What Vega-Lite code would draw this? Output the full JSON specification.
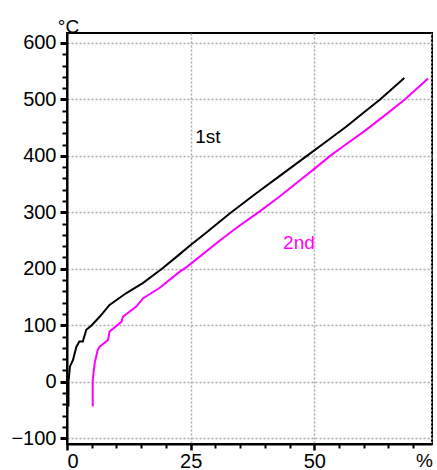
{
  "$schema": "https://vega.github.io/schema/vega-lite/v6.json",
  "width": 365,
  "height": 411,
  "autosize": {"type": "none"},
  "padding": {"left": 67, "top": 33, "right": 5, "bottom": 26},
  "background": "white",
  "config": {
    "view": {"stroke": "black", "strokeWidth": 2},
    "font": "Liberation Sans",
    "axis": {
      "domainColor": "black",
      "domainWidth": 2,
      "tickColor": "black",
      "labelColor": "black",
      "labelFont": "Liberation Sans",
      "labelFontSize": 20,
      "titleFont": "Liberation Sans",
      "titleFontSize": 19,
      "titleFontWeight": "normal",
      "titleColor": "black",
      "gridColor": "#aaaaaa",
      "gridDash": [2, 2],
      "gridWidth": 1.5
    }
  },
  "datasets": {
    "curves": [
      {"x": 0.3, "y": -44, "run": "1st"},
      {"x": 0.3, "y": 0, "run": "1st"},
      {"x": 0.6, "y": 27, "run": "1st"},
      {"x": 1.2, "y": 38, "run": "1st"},
      {"x": 1.9, "y": 62, "run": "1st"},
      {"x": 2.5, "y": 71, "run": "1st"},
      {"x": 3.2, "y": 71, "run": "1st"},
      {"x": 3.9, "y": 92, "run": "1st"},
      {"x": 4.9, "y": 99, "run": "1st"},
      {"x": 6.6, "y": 115, "run": "1st"},
      {"x": 8.6, "y": 136, "run": "1st"},
      {"x": 12, "y": 157, "run": "1st"},
      {"x": 15.4, "y": 175, "run": "1st"},
      {"x": 19.2, "y": 200, "run": "1st"},
      {"x": 22.8, "y": 226, "run": "1st"},
      {"x": 25, "y": 242, "run": "1st"},
      {"x": 28, "y": 263, "run": "1st"},
      {"x": 32.9, "y": 298, "run": "1st"},
      {"x": 38, "y": 332, "run": "1st"},
      {"x": 43.1, "y": 365, "run": "1st"},
      {"x": 48.5, "y": 400, "run": "1st"},
      {"x": 52.5, "y": 426, "run": "1st"},
      {"x": 56.5, "y": 452, "run": "1st"},
      {"x": 60, "y": 477, "run": "1st"},
      {"x": 63.3, "y": 500, "run": "1st"},
      {"x": 68.2, "y": 538, "run": "1st"},
      {"x": 5.2, "y": -44, "run": "2nd"},
      {"x": 5.2, "y": 3, "run": "2nd"},
      {"x": 5.6, "y": 33, "run": "2nd"},
      {"x": 6.2, "y": 56, "run": "2nd"},
      {"x": 6.6, "y": 62, "run": "2nd"},
      {"x": 8.3, "y": 74, "run": "2nd"},
      {"x": 8.6, "y": 89, "run": "2nd"},
      {"x": 11, "y": 106, "run": "2nd"},
      {"x": 11.3, "y": 115, "run": "2nd"},
      {"x": 14, "y": 133, "run": "2nd"},
      {"x": 15.4, "y": 148, "run": "2nd"},
      {"x": 18.7, "y": 166, "run": "2nd"},
      {"x": 22.8, "y": 195, "run": "2nd"},
      {"x": 24.2, "y": 203, "run": "2nd"},
      {"x": 30.9, "y": 250, "run": "2nd"},
      {"x": 34.5, "y": 274, "run": "2nd"},
      {"x": 38.7, "y": 300, "run": "2nd"},
      {"x": 43, "y": 328, "run": "2nd"},
      {"x": 47.1, "y": 357, "run": "2nd"},
      {"x": 50, "y": 377, "run": "2nd"},
      {"x": 53.2, "y": 400, "run": "2nd"},
      {"x": 56.5, "y": 421, "run": "2nd"},
      {"x": 60, "y": 443, "run": "2nd"},
      {"x": 64, "y": 470, "run": "2nd"},
      {"x": 68.3, "y": 500, "run": "2nd"},
      {"x": 73, "y": 537, "run": "2nd"}
    ],
    "labels": [
      {"x": 28.5, "y": 422, "run": "1st"},
      {"x": 46.9, "y": 234.5, "run": "2nd"}
    ]
  },
  "resolve": {"axis": {"x": "independent", "y": "independent"}},
  "layer": [
    {
      "data": {"name": "curves"},
      "mark": {"type": "line", "strokeWidth": 2, "interpolate": "linear"},
      "encoding": {
        "x": {
          "field": "x",
          "type": "quantitative",
          "scale": {"domain": [0, 73.8], "nice": false, "zero": false},
          "axis": {
            "orient": "bottom",
            "values": [0, 25, 50],
            "tickSize": 6,
            "tickWidth": 2.5,
            "grid": true,
            "labelPadding": 1,
            "title": "%",
            "titleFontSize": 19,
            "titleX": 357,
            "titleY": 22,
            "titleAlign": "center",
            "titleBaseline": "alphabetic",
            "titleAnchor": null
          }
        },
        "y": {
          "field": "y",
          "type": "quantitative",
          "scale": {"domain": [-110.4, 617.7], "nice": false, "zero": false},
          "axis": {
            "orient": "left",
            "values": [-100, 0, 100, 200, 300, 400, 500, 600],
            "tickSize": 7,
            "tickWidth": 3,
            "grid": true,
            "labelPadding": 4,
            "title": "°C",
            "titleAngle": 0,
            "titleX": 1,
            "titleY": -1,
            "titleAlign": "center",
            "titleBaseline": "alphabetic",
            "titleAnchor": null
          }
        },
        "color": {
          "field": "run",
          "type": "nominal",
          "scale": {"domain": ["1st", "2nd"], "range": ["#000000", "#ff00ff"]},
          "legend": null
        }
      }
    },
    {
      "data": {"name": "labels"},
      "mark": {"type": "text", "fontSize": 19, "font": "Liberation Sans", "align": "center", "baseline": "alphabetic"},
      "encoding": {
        "x": {
          "field": "x",
          "type": "quantitative",
          "scale": {"domain": [0, 73.8], "nice": false, "zero": false},
          "axis": {
            "orient": "bottom",
            "values": [5, 10, 15, 20, 30, 35, 40, 45, 55, 60, 65, 70, 73.5],
            "tickSize": 4,
            "tickWidth": 2,
            "tickOpacity": {"condition": {"test": "datum.value > 73", "value": 0}, "value": 1},
            "grid": true,
            "gridOpacity": {"condition": {"test": "datum.value > 73", "value": 1}, "value": 0},
            "labels": false,
            "domain": false,
            "title": null
          }
        },
        "y": {
          "field": "y",
          "type": "quantitative",
          "scale": {"domain": [-110.4, 617.7], "nice": false, "zero": false},
          "axis": {
            "orient": "left",
            "values": [-80, -60, -40, -20, 20, 40, 60, 80, 120, 140, 160, 180, 220, 240, 260, 280, 320, 340, 360, 380, 420, 440, 460, 480, 520, 540, 560, 580],
            "tickSize": 5,
            "tickWidth": 2,
            "grid": false,
            "labels": false,
            "domain": false,
            "title": null
          }
        },
        "text": {"field": "run"},
        "color": {
          "field": "run",
          "type": "nominal",
          "scale": {"domain": ["1st", "2nd"], "range": ["#000000", "#ff00ff"]},
          "legend": null
        }
      }
    }
  ]
}
